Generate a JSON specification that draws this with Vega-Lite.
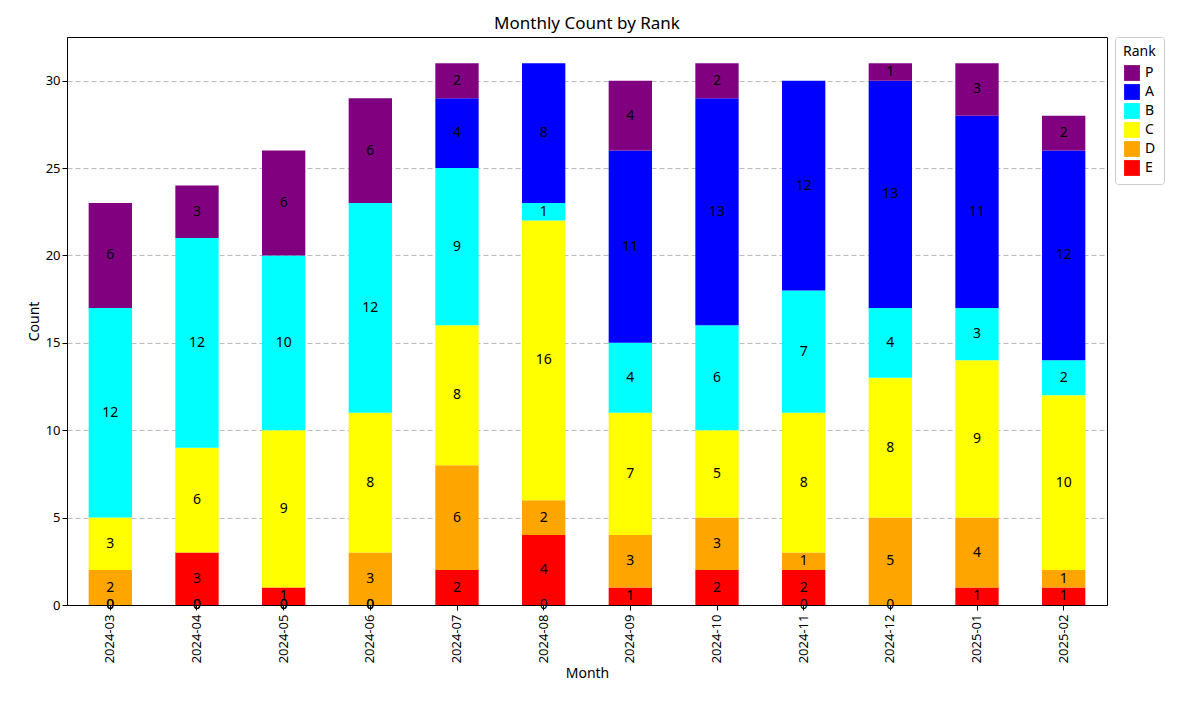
{
"$schema":"https://vega.github.io/schema/vega-lite/v6.json",
"width":1040,"height":568,
"padding":{"left":27,"top":14,"right":5,"bottom":5},
"config":{"font":"Noto Sans","view":{"stroke":"black"},"axis":{"labelFontSize":13,"titleFontSize":14,"titleFontWeight":"normal","labelColor":"black","titleColor":"black","domainColor":"black","tickColor":"black"}},
"title":{"text":"Monthly Count by Rank","fontSize":17,"fontWeight":"normal"},
"data":{"values":[
{"month":"2024-03","rank":"E","o":0,"value":0},{"month":"2024-03","rank":"D","o":1,"value":2},{"month":"2024-03","rank":"C","o":2,"value":3},{"month":"2024-03","rank":"B","o":3,"value":12},{"month":"2024-03","rank":"A","o":4,"value":0},{"month":"2024-03","rank":"P","o":5,"value":6},
{"month":"2024-04","rank":"E","o":0,"value":3},{"month":"2024-04","rank":"D","o":1,"value":0},{"month":"2024-04","rank":"C","o":2,"value":6},{"month":"2024-04","rank":"B","o":3,"value":12},{"month":"2024-04","rank":"A","o":4,"value":0},{"month":"2024-04","rank":"P","o":5,"value":3},
{"month":"2024-05","rank":"E","o":0,"value":1},{"month":"2024-05","rank":"D","o":1,"value":0},{"month":"2024-05","rank":"C","o":2,"value":9},{"month":"2024-05","rank":"B","o":3,"value":10},{"month":"2024-05","rank":"A","o":4,"value":0},{"month":"2024-05","rank":"P","o":5,"value":6},
{"month":"2024-06","rank":"E","o":0,"value":0},{"month":"2024-06","rank":"D","o":1,"value":3},{"month":"2024-06","rank":"C","o":2,"value":8},{"month":"2024-06","rank":"B","o":3,"value":12},{"month":"2024-06","rank":"A","o":4,"value":0},{"month":"2024-06","rank":"P","o":5,"value":6},
{"month":"2024-07","rank":"E","o":0,"value":2},{"month":"2024-07","rank":"D","o":1,"value":6},{"month":"2024-07","rank":"C","o":2,"value":8},{"month":"2024-07","rank":"B","o":3,"value":9},{"month":"2024-07","rank":"A","o":4,"value":4},{"month":"2024-07","rank":"P","o":5,"value":2},
{"month":"2024-08","rank":"E","o":0,"value":4},{"month":"2024-08","rank":"D","o":1,"value":2},{"month":"2024-08","rank":"C","o":2,"value":16},{"month":"2024-08","rank":"B","o":3,"value":1},{"month":"2024-08","rank":"A","o":4,"value":8},{"month":"2024-08","rank":"P","o":5,"value":0},
{"month":"2024-09","rank":"E","o":0,"value":1},{"month":"2024-09","rank":"D","o":1,"value":3},{"month":"2024-09","rank":"C","o":2,"value":7},{"month":"2024-09","rank":"B","o":3,"value":4},{"month":"2024-09","rank":"A","o":4,"value":11},{"month":"2024-09","rank":"P","o":5,"value":4},
{"month":"2024-10","rank":"E","o":0,"value":2},{"month":"2024-10","rank":"D","o":1,"value":3},{"month":"2024-10","rank":"C","o":2,"value":5},{"month":"2024-10","rank":"B","o":3,"value":6},{"month":"2024-10","rank":"A","o":4,"value":13},{"month":"2024-10","rank":"P","o":5,"value":2},
{"month":"2024-11","rank":"E","o":0,"value":2},{"month":"2024-11","rank":"D","o":1,"value":1},{"month":"2024-11","rank":"C","o":2,"value":8},{"month":"2024-11","rank":"B","o":3,"value":7},{"month":"2024-11","rank":"A","o":4,"value":12},{"month":"2024-11","rank":"P","o":5,"value":0},
{"month":"2024-12","rank":"E","o":0,"value":0},{"month":"2024-12","rank":"D","o":1,"value":5},{"month":"2024-12","rank":"C","o":2,"value":8},{"month":"2024-12","rank":"B","o":3,"value":4},{"month":"2024-12","rank":"A","o":4,"value":13},{"month":"2024-12","rank":"P","o":5,"value":1},
{"month":"2025-01","rank":"E","o":0,"value":1},{"month":"2025-01","rank":"D","o":1,"value":4},{"month":"2025-01","rank":"C","o":2,"value":9},{"month":"2025-01","rank":"B","o":3,"value":3},{"month":"2025-01","rank":"A","o":4,"value":11},{"month":"2025-01","rank":"P","o":5,"value":3},
{"month":"2025-02","rank":"E","o":0,"value":1},{"month":"2025-02","rank":"D","o":1,"value":1},{"month":"2025-02","rank":"C","o":2,"value":10},{"month":"2025-02","rank":"B","o":3,"value":2},{"month":"2025-02","rank":"A","o":4,"value":12},{"month":"2025-02","rank":"P","o":5,"value":2}
]},
"transform":[
{"stack":"value","groupby":["month"],"sort":[{"field":"o","order":"ascending"}],"as":["y0","y1"]},
{"calculate":"datum.value==0?0:(datum.y0+datum.y1)/2","as":"mid"}
],
"encoding":{"x":{"field":"month","type":"ordinal","title":"Month","scale":{"paddingInner":0.5,"paddingOuter":0.25},"axis":{"labelAngle":-90,"labelPadding":4}}},
"layer":[
{"mark":{"type":"bar","stroke":null},
 "encoding":{"y":{"field":"y0","type":"quantitative","title":"Count","scale":{"domain":[0,32.5],"nice":false},"axis":{"values":[0,5,10,15,20,25,30],"grid":true,"gridDash":[5,3],"gridColor":"#bbbbbb"}},
 "y2":{"field":"y1"},
 "color":{"field":"rank","type":"nominal","scale":{"domain":["P","A","B","C","D","E"],"range":["#800080","#0000ff","#00ffff","#ffff00","#ffa500","#ff0000"]},
  "legend":{"title":"Rank","orient":"right","titleFontWeight":"normal","titleFontSize":14,"labelFontSize":14,"symbolType":"square","symbolSize":250,"strokeColor":"#cccccc","padding":8,"cornerRadius":3,"offset":8}}}},
{"mark":{"type":"text","fontSize":14,"color":"black"},
 "encoding":{"y":{"field":"mid","type":"quantitative"},"text":{"field":"value","type":"quantitative"}}}
]
}
